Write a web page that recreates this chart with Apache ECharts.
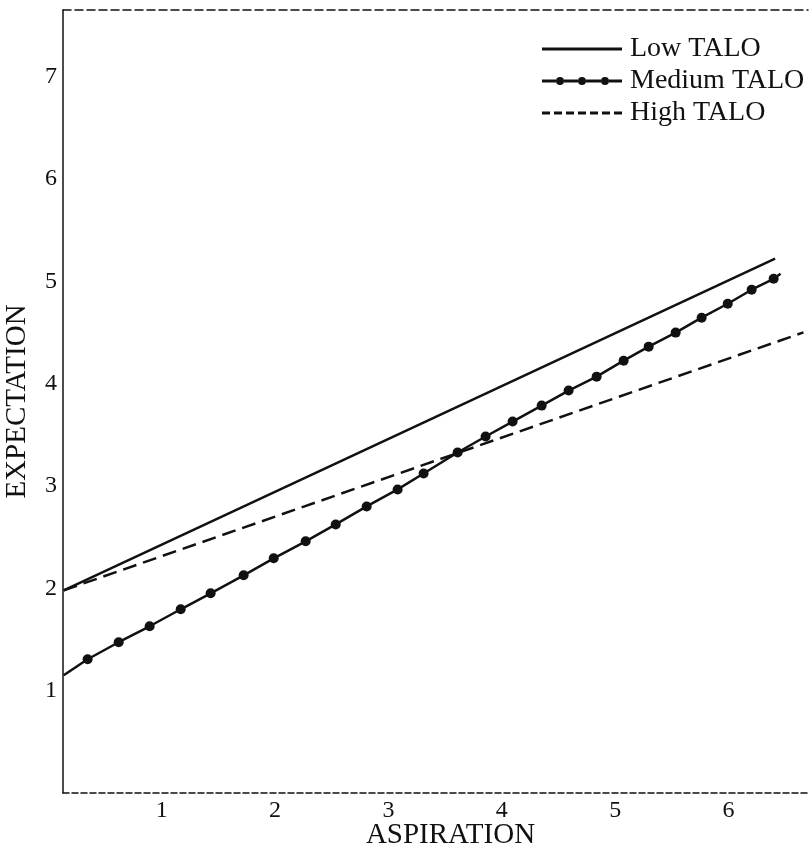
<!DOCTYPE html>
<html lang="en">
<head>
	<meta charset="UTF-8">
	<title>Expectation vs Aspiration</title>
	<script src="https://cdn.jsdelivr.net/npm/echarts@6/dist/echarts.min.js"></script>
	<style>
		body { margin: 0; background: #fff; }
	</style>
</head>
<body>
	<div id="main" style="width: 812px;height: 858px"></div>

	<script type="text/javascript">
	// values (x = aspiration, y = expectation)
	var lowTalo = [[0.136, 1.98], [6.41, 5.22]];
	var highTalo = [[0.136, 1.98], [6.66, 4.50]];
	var mediumEnds = [[0.136, 1.151], [6.458, 5.073]];
	var mediumDots = [
		[0.347, 1.307], [0.621, 1.473], [0.894, 1.629], [1.168, 1.795], [1.432, 1.951],
		[1.723, 2.127], [1.988, 2.293], [2.270, 2.459], [2.535, 2.624], [2.808, 2.800],
		[3.081, 2.966], [3.310, 3.122], [3.610, 3.327], [3.857, 3.483], [4.095, 3.629],
		[4.351, 3.785], [4.589, 3.932], [4.836, 4.068], [5.074, 4.224], [5.295, 4.361],
		[5.533, 4.498], [5.762, 4.644], [5.992, 4.780], [6.203, 4.917], [6.397, 5.024]
	];
	var xTicks = [1, 2, 3, 4, 5, 6];
	var yTicks = [1, 2, 3, 4, 5, 6, 7];

	var ink = '#111';
	var serif = 'Liberation Serif';

	// medium line: plain end points + dotted points in between
	var mediumData = [{value: mediumEnds[0], symbol: 'none'}];
	for (var i = 0; i < mediumDots.length; i++) {
		mediumData.push(mediumDots[i]);
	}
	mediumData.push({value: mediumEnds[1], symbol: 'none'});

	var myChart = echarts.init(document.getElementById('main'));

	var option = {
		animation: false,
		backgroundColor: '#fff',
		grid: {left: 63, right: 4, top: 10, bottom: 65, outerBoundsMode: 'none', containLabel: false},
		legend: {
			orient: 'vertical',
			left: 537,
			top: 30,
			itemWidth: 80,
			itemHeight: 12,
			itemGap: 4,
			textStyle: {fontFamily: serif, fontSize: 28, lineHeight: 27, color: ink, padding: [0, 0, 0, 3]},
			itemStyle: {color: ink, borderWidth: 0},
			data: [
				{name: 'Low TALO', icon: 'path://M0,0H80V3H0Z'},
				{name: 'Medium TALO', icon: 'path://M0,4H14V7H0Z M22,4H36V7H22Z M44,4H59V7H44Z M67,4H80V7H67Z M14,5.5a4,4 0 1,0 8,0a4,4 0 1,0 -8,0Z M36,5.5a4,4 0 1,0 8,0a4,4 0 1,0 -8,0Z M59,5.5a4,4 0 1,0 8,0a4,4 0 1,0 -8,0Z'},
				{name: 'High TALO', icon: 'path://M0,0H8V3H0Z M12,0H20V3H12Z M24,0H32V3H24Z M36,0H44V3H36Z M48,0H56V3H48Z M60,0H68V3H60Z M72,0H80V3H72Z'}
			]
		},
		xAxis: [{
			type: 'value',
			min: 0.13,
			max: 6.7,
			name: 'ASPIRATION',
			nameLocation: 'middle',
			nameMoveOverlap: false,
			nameGap: 28,
			nameTextStyle: {fontFamily: serif, fontSize: 29, color: ink, padding: [0, 0, 0, 30]},
			axisLine: {show: true, lineStyle: {color: ink, width: 1.5, type: [6, 3]}},
			axisTick: {show: false},
			splitLine: {show: false},
			axisLabel: {customValues: xTicks, fontFamily: serif, fontSize: 24, color: ink, margin: 6}
		}, {
			type: 'value',
			position: 'top',
			min: 0.13,
			max: 6.7,
			axisLine: {show: true, onZero: false, lineStyle: {color: ink, width: 1.5, type: [8, 4]}},
			axisTick: {show: false},
			axisLabel: {show: false},
			splitLine: {show: false}
		}],
		yAxis: {
			type: 'value',
			min: 0,
			max: 7.65,
			name: 'EXPECTATION',
			nameLocation: 'middle',
			nameMoveOverlap: false,
			nameGap: 31,
			nameTextStyle: {fontFamily: serif, fontSize: 29, color: ink},
			axisLine: {show: true, lineStyle: {color: ink, width: 1.5}},
			axisTick: {show: false},
			splitLine: {show: false},
			axisLabel: {customValues: yTicks, fontFamily: serif, fontSize: 24, color: ink, margin: 6}
		},
		series: [{
			name: 'Low TALO',
			type: 'line',
			data: lowTalo,
			showSymbol: false,
			symbol: 'none',
			lineStyle: {color: ink, width: 2.5},
			itemStyle: {color: ink}
		}, {
			name: 'Medium TALO',
			type: 'line',
			data: mediumData,
			symbol: 'circle',
			symbolSize: 10,
			lineStyle: {color: ink, width: 2.5},
			itemStyle: {color: ink}
		}, {
			name: 'High TALO',
			type: 'line',
			data: highTalo,
			symbol: 'none',
			lineStyle: {color: ink, width: 2.5, type: [14, 7]},
			itemStyle: {color: ink}
		}]
	};
	myChart.setOption(option);
	</script>
</body>
</html>
